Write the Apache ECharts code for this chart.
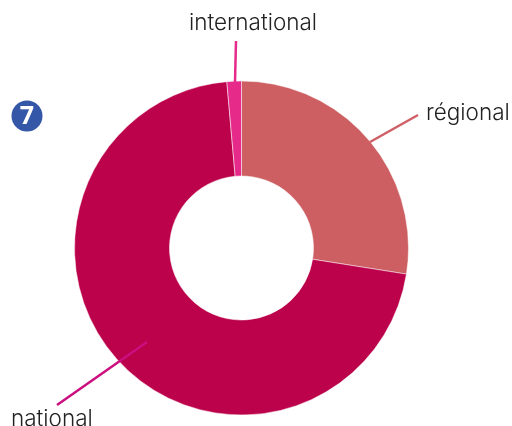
<!DOCTYPE html>
<html>
<head>
<meta charset="utf-8">
<style>html,body{margin:0;padding:0;background:#fff}#main{width:512px;height:426px}</style>
<script src="https://cdn.jsdelivr.net/npm/echarts@6/dist/echarts.min.js"></script>
</head>
<body>
<div id="main"></div>
<script>
var categories = ['régional', 'national', 'international'];
var values = [27.5, 71.1, 1.4];
var colors = ['#cd5f62', '#bb024b', '#e62a8a'];
var lineColors = ['#cf5f66', '#cc0f7f', '#e62a8a'];
// leader line ends and label anchors, in pixels
var leaders = [
    [[370, 142], [418, 115]],
    [[147, 342], [57, 405]],
    [[235, 82], [236, 41]]
];
var labelPos = [[426, 113], [11, 419], [189, 23]];

var myChart = echarts.init(document.getElementById('main'), null, { renderer: 'canvas' });
var center = [241.5, 248];
var radius = [72, 167];
var sliceData = [];
var labelData = [];
for (var i = 0; i < categories.length; i++) {
    sliceData.push({
        name: categories[i],
        value: values[i],
        itemStyle: { color: colors[i] }
    });
    labelData.push({
        name: categories[i],
        value: values[i],
        labelLine: { lineStyle: { color: lineColors[i], width: 2.5 } }
    });
}
var option = {
    animation: false,
    backgroundColor: '#fff',
    graphic: [{
        type: 'circle',
        shape: { cx: 27, cy: 116, r: 15.5 },
        style: { fill: '#3557a7' }
    }, {
        type: 'text',
        style: {
            x: 27, y: 117, text: '7', fill: '#fff',
            font: 'bold 25px "Open Sans"', align: 'center', verticalAlign: 'middle'
        }
    }],
    series: [{
        type: 'pie',
        center: center,
        radius: radius,
        startAngle: 90,
        silent: true,
        itemStyle: { borderColor: '#fff', borderWidth: 0.5 },
        label: { show: false },
        data: sliceData
    }, {
        // second, see-through ring: keeps the leader lines above the slices
        type: 'pie',
        z: 5,
        center: center,
        radius: radius,
        startAngle: 90,
        silent: true,
        itemStyle: { color: 'transparent' },
        label: {
            show: true,
            formatter: '{b}',
            color: '#222',
            fontFamily: 'Inter',
            fontSize: 22.5,
            fontWeight: 300,
            overflow: 'none'
        },
        labelLine: { show: true, smooth: false },
        labelLayout: function (params) {
            var i = params.dataIndex;
            return {
                x: labelPos[i][0],
                y: labelPos[i][1],
                align: 'left',
                verticalAlign: 'middle',
                labelLinePoints: [leaders[i][0], leaders[i][1], leaders[i][1]]
            };
        },
        data: labelData
    }]
};
myChart.setOption(option);
</script>
</body>
</html>
